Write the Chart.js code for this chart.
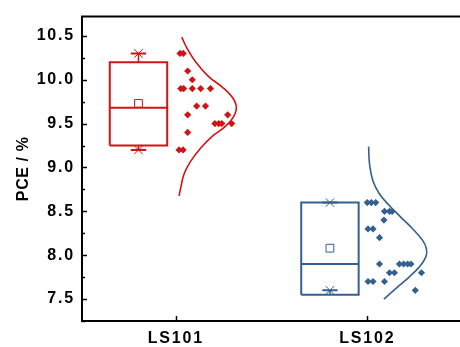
<!DOCTYPE html>
<html><head><meta charset="utf-8">
<script src="https://cdn.jsdelivr.net/npm/chart.js@4.4.0/dist/chart.umd.min.js"></script>
<style>html,body{margin:0;padding:0;background:#fff;overflow:hidden;}#wrap{width:470px;height:347px;position:relative;}</style>
</head><body><div id="wrap"><canvas id="c"></canvas></div>
<script>
const categories = ['LS101', 'LS102'];
const yTickValues = [7.5, 8.0, 8.5, 9.0, 9.5, 10.0, 10.5];
const yTickLabels = ['7.5', '8.0', '8.5', '9.0', '9.5', '10.0', '10.5'];

// PCE values (%) for each device series, with their horizontal jitter (in category units)
const ls101Values = [10.3, 10.3, 10.1, 10.0, 9.9, 9.9, 9.9, 9.9, 9.9, 9.7, 9.7, 9.6, 9.6, 9.5, 9.5, 9.5, 9.5, 9.4, 9.2, 9.2];
const ls101Jitter = [0.022, 0.039, 0.062, 0.086, 0.026, 0.041, 0.086, 0.130, 0.181, 0.109, 0.155, 0.062, 0.271, 0.204, 0.224, 0.240, 0.292, 0.062, 0.017, 0.038];
const ls102Values = [8.6, 8.6, 8.6, 8.5, 8.5, 8.5, 8.4, 8.3, 8.3, 8.2, 7.9, 7.9, 7.9, 7.9, 7.9, 7.8, 7.8, 7.8, 7.7, 7.7, 7.7, 7.6];
const ls102Jitter = [0.000, 0.021, 0.044, 0.090, 0.116, 0.130, 0.087, 0.004, 0.030, 0.064, 0.064, 0.168, 0.190, 0.211, 0.228, 0.116, 0.142, 0.283, 0.004, 0.030, 0.090, 0.251];

// box statistics: [whiskerLow, q1, median, mean, q3, whiskerHigh]
const ls101Box = [9.2, 9.25, 9.68, 9.73, 10.2, 10.3];
const ls102Box = [7.6, 7.55, 7.9, 8.08, 8.6, 8.6];

// distribution curves: value and width (category units)
const ls101CurveY = [10.485, 10.353, 10.203, 10.033, 9.920, 9.807, 9.694, 9.581, 9.468, 9.355, 9.223, 9.072, 8.926, 8.771, 8.677];
const ls101CurveW = [0.031, 0.060, 0.104, 0.173, 0.241, 0.293, 0.316, 0.302, 0.259, 0.190, 0.130, 0.078, 0.043, 0.026, 0.017];
const ls102CurveY = [9.24, 9.036, 8.847, 8.697, 8.564, 8.432, 8.301, 8.169, 8.075, 7.981, 7.867, 7.754, 7.623, 7.499];
const ls102CurveW = [0.007, 0.012, 0.030, 0.064, 0.116, 0.176, 0.237, 0.289, 0.309, 0.306, 0.272, 0.220, 0.150, 0.087];

const RED = '#d01414';
const BLUE = '#33608e';
const BOX_OFFSET = -0.195, BOX_HALF = 0.15, CAP_HALF = 0.04;

function line(pts, color, w) {
  return { data: pts, showLine: true, borderColor: color, borderWidth: w, pointRadius: 0, fill: false, tension: 0 };
}
function group(idx, color, values, jitter, box, cy, cw) {
  const c = idx + 1, bx = c + BOX_OFFSET, hw = BOX_HALF;
  const [wl, q1, med, mean, q3, wh] = box;
  return [
    line([{x: bx - hw, y: q1}, {x: bx - hw, y: q3}, {x: bx + hw, y: q3}, {x: bx + hw, y: q1}, {x: bx - hw, y: q1}], color, 2),
    line([{x: bx - hw, y: med}, {x: bx + hw, y: med}], color, 2),
    line([{x: bx, y: q3}, {x: bx, y: wh}], color, 1.5),
    line([{x: bx, y: q1}, {x: bx, y: wl}], color, 1.5),
    line([{x: bx - CAP_HALF, y: wh}, {x: bx + CAP_HALF, y: wh}], color, 2),
    line([{x: bx - CAP_HALF, y: wl}, {x: bx + CAP_HALF, y: wl}], color, 2),
    { data: [{x: bx, y: wh}, {x: bx, y: wl}], pointStyle: 'crossRot', pointRadius: 6, borderColor: color, borderWidth: 1, backgroundColor: color },
    { data: [{x: bx, y: mean}], pointStyle: 'rect', pointRadius: 5.5, borderColor: color, borderWidth: 1, backgroundColor: '#fff' },
    { data: values.map((v, i) => ({x: c + jitter[i], y: v})), pointStyle: 'rectRot', pointRadius: 3.6, borderWidth: 0, backgroundColor: color, borderColor: color },
    Object.assign(line(cy.map((v, i) => ({x: c + cw[i], y: v})), color, 1.6), {tension: 0.4})
  ];
}

const spacingPlugin = {
  id: 'spacing',
  beforeDraw(chart) { chart.ctx.letterSpacing = '0.6px'; },
  afterDatasetsDraw(chart) { chart.ctx.letterSpacing = '1.8px'; }
};

const framePlugin = {
  id: 'frame',
  afterDraw(chart) {
    const {ctx, chartArea: a, scales: {x, y}} = chart;
    ctx.letterSpacing = '0px';
    ctx.save();
    ctx.strokeStyle = '#000';
    ctx.lineWidth = 2;
    ctx.beginPath();
    ctx.moveTo(a.right, a.top); ctx.lineTo(a.left, a.top); ctx.lineTo(a.left, a.bottom); ctx.lineTo(a.right, a.bottom);
    ctx.stroke();
    ctx.lineWidth = 1.5;
    const vals = [];
    yTickValues.forEach(v => { vals.push([v, 5]); vals.push([v - 0.25, 3]); });
    vals.forEach(([v, len]) => {
      if (v < y.min || v > y.max) return;
      const py = Math.round(y.getPixelForValue(v)) + 0.5;
      ctx.beginPath(); ctx.moveTo(a.left, py); ctx.lineTo(a.left + len, py); ctx.stroke();
    });
    categories.forEach((c, i) => {
      const px = Math.round(x.getPixelForValue(i + 1)) + 0.5;
      ctx.beginPath(); ctx.moveTo(px, a.bottom); ctx.lineTo(px, a.bottom - 5); ctx.stroke();
    });
    ctx.restore();
  }
};

const font = {family: "'Liberation Sans', Arial, sans-serif", size: 16, weight: 'bold'};

new Chart(document.getElementById('c'), {
  type: 'scatter',
  data: { datasets: [
    ...group(0, RED, ls101Values, ls101Jitter, ls101Box, ls101CurveY, ls101CurveW),
    ...group(1, BLUE, ls102Values, ls102Jitter, ls102Box, ls102CurveY, ls102CurveW)
  ]},
  options: {
    responsive: true, maintainAspectRatio: false, animation: false,
    layout: {padding: {top: 14, right: 4, left: 0, bottom: 0}},
    plugins: {legend: {display: false}, tooltip: {enabled: false}},
    scales: {
      x: {
        type: 'linear', min: 0.51, max: 2.5,
        grid: {display: false, drawTicks: false}, border: {display: false},
        afterBuildTicks: s => { s.ticks = categories.map((c, i) => ({value: i + 1})); },
        afterFit: s => { s.height = 26; },
        ticks: {font, color: '#000', padding: 8, maxRotation: 0, autoSkip: false, z: 1,
          callback: v => categories[Math.round(v) - 1]}
      },
      y: {
        type: 'linear', min: 7.25, max: 10.72,
        grid: {display: false, drawTicks: false}, border: {display: false},
        afterBuildTicks: s => { s.ticks = yTickValues.map(v => ({value: v})); },
        afterFit: s => { s.width = 82; },
        title: {display: true, text: 'PCE / %', font, color: '#000', padding: {top: 14, bottom: 0}},
        ticks: {font, color: '#000', padding: 7, autoSkip: false, z: 1,
          callback: (v, i) => yTickLabels[i]}
      }
    }
  },
  plugins: [spacingPlugin, framePlugin]
});
</script>
</body></html>
